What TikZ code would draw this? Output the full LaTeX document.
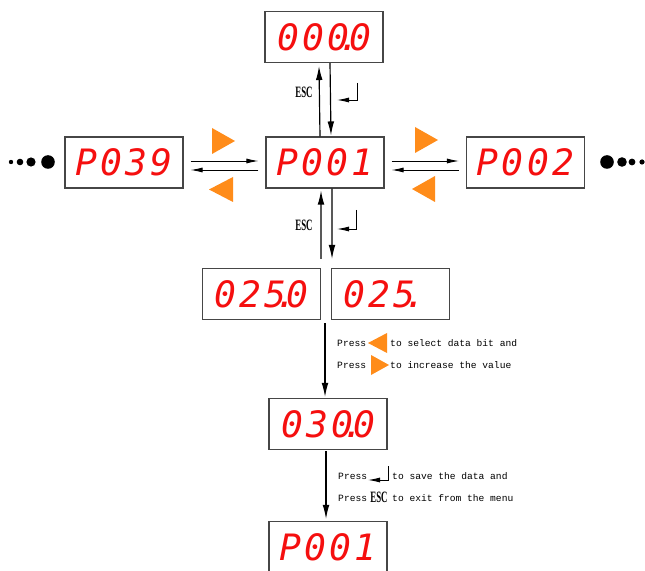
\documentclass[tikz,border=0pt]{standalone}
\usepackage{fontspec}
\usetikzlibrary{arrows.meta,calc}
\newfontfamily\segfont{DejaVu Sans Mono}[LetterSpace=9]
\newfontfamily\notefont{Liberation Mono}
\newfontfamily\escfont{Liberation Serif}
\definecolor{segred}{RGB}{245,15,15}
\definecolor{keyorange}{RGB}{255,140,26}
\definecolor{boxgray}{RGB}{70,70,70}
\newcommand{\dpt}{\makebox[0pt]{.}}
\newcommand{\esclabel}{\scalebox{0.56}[1]{\escfont\bfseries ESC}}
\tikzset{
  display/.style={draw=boxgray, line width=0.9pt, minimum width=3.54cm, minimum height=1.53cm,
    inner sep=0pt, text=segred, font=\segfont\itshape\fontsize{31}{31}\selectfont},
  flow/.style={line width=1pt, -{Latex[length=0.42cm,width=0.2cm]}},
  side/.style={line width=0.8pt, -{Latex[length=0.36cm,width=0.15cm]}},
  keytri/.style={fill=keyorange},
  note/.style={anchor=west, inner sep=0pt, font=\notefont\fontsize{8.2}{9}\selectfont},
  esc/.style={inner sep=0pt, font=\fontsize{13.5}{13.5}\selectfont},
}

\begin{document}
\begin{tikzpicture}[x=0.03cm,y=-0.03cm]
    % Page
    \useasboundingbox (0,0) rectangle (645,571);
    \clip (0,0) rectangle (645,571);
    \fill[white] (0,0) rectangle (645,571);

    % Displays
    \node[display] (top) at (324,37) {000\dpt 0};
    \node[display] (p039) at (124,162.5) {P039};
    \node[display] (p001) at (325,162.5) {P001};
    \node[display] (p002) at (525.5,162.5) {P002};
    \node[display] (vala) at (261.5,294) {025\dpt 0};
    \node[display] (valb) at (390.5,294) {025\dpt\phantom{0}};
    \node[display] (new) at (328,424) {030\dpt 0};
    \node[display] (back) at (328,547) {P001};

    % Up and down between P001 and 000.0
    \draw[flow] ($(p001.north)+(-5,0)$) -- ($(top.south)+(-5,3)$);
    \draw[flow] ($(top.south)+(6,0)$) -- ($(p001.north)+(6,-1)$);
    \node[esc] (esc1) at (304,92) {\esclabel};
    \draw[side] (357,83) -- (357,100) -- (337,100);

    % Down and up between P001 and the values
    \coordinate (gap) at ($(vala.north east)!0.5!(valb.north west)$);
    \draw[flow] ($(gap)+(-5,-9)$) -- ($(p001.south)+(-4,2)$);
    \draw[flow] ($(p001.south)+(7,0)$) -- ($(gap)+(6,-9)$);
    \node[esc] (esc2) at (304,225) {\esclabel};
    \draw[side] (356,210) -- (356,229) -- (337,229);

    % -- left side
    \draw[side] ($(p039.east)+(7,-1.5)$) -- ($(p001.west)+(-7,-1.5)$);
    \draw[side] ($(p001.west)+(-7,7.5)$) -- ($(p039.east)+(7,7.5)$);
    \fill[keytri] (212,128) -- (235,141) -- (212,154) -- cycle;
    \fill[keytri] (233,177) -- (209,189.5) -- (233,202) -- cycle;
    \foreach \cx/\r in {11/2.2,20/3.3,31/4.6,48/6.8}
        \fill (\cx,162) circle (\r);

    % -- right side
    \draw[side] ($(p001.east)+(7,-1.5)$) -- ($(p002.west)+(-7,-1.5)$);
    \draw[side] ($(p002.west)+(-7,7.5)$) -- ($(p001.east)+(7,7.5)$);
    \fill[keytri] (415,127) -- (438,140) -- (415,153) -- cycle;
    \fill[keytri] (435,176) -- (412,189) -- (435,202) -- cycle;
    \foreach \cx/\r in {607/6.8,622/4.8,632/3.4,642/2.6}
        \fill (\cx,162) circle (\r);

    % Edit the value
    \coordinate (gapb) at ($(vala.south east)!0.5!(valb.south west)$);
    \draw[flow] ($(gapb)+(-1,3)$) -- ($(gapb |- new.north)+(-1,-1)$);
    \node[note] (pr1) at (337,343) {Press};
    \fill[keytri] (387,333) -- (368,343) -- (387,353) -- cycle;
    \node[note] (sel) at (390,343) {to select data bit and};
    \node[note] (pr2) at (337,365) {Press};
    \fill[keytri] (371,355) -- (389,365) -- (371,375) -- cycle;
    \node[note] (inc) at (390,365) {to increase the value};

    % Save or leave
    \draw[flow] ($(new.south)+(-2,1)$) -- ($(back.north)+(-2,-2)$);
    \node[note] (pr3) at (338,476) {Press};
    \draw[side] (388,466) -- (388,480) -- (368,480);
    \node[note] (save) at (392,476) {to save the data and};
    \node[note] (pr4) at (338,498) {Press};
    \node[esc] (esc3) at (379,497) {\esclabel};
    \node[note] (quit) at (392,498) {to exit from the menu};
\end{tikzpicture}
\end{document}
